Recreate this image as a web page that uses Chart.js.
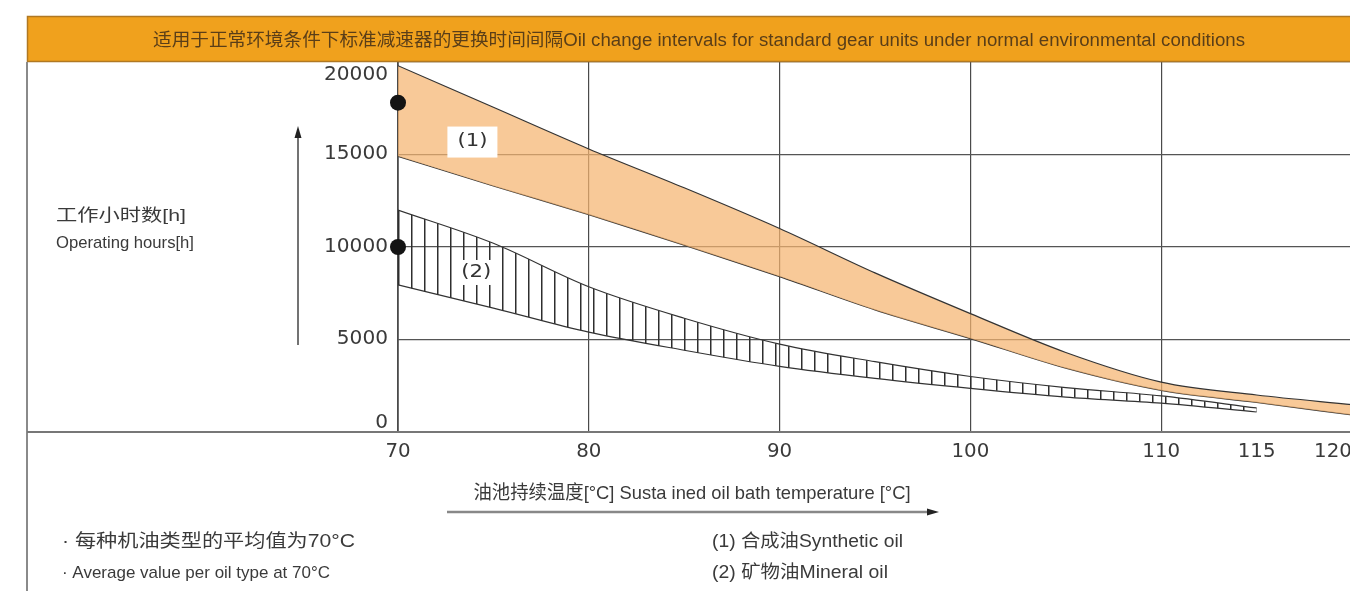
<!DOCTYPE html>
<html>
<head>
<meta charset="utf-8">
<script src="https://cdn.jsdelivr.net/npm/chart.js@4"></script>
<style>
  html, body { margin: 0; padding: 0; background: #fff; overflow: hidden; }
  #chart { display: block; }
</style>
</head>
<body>
<canvas id="chart" width="1360" height="591"></canvas>
<script>
// data
const temps = [70, 75, 80, 85, 90, 95, 100, 105, 110, 115, 120];
const syntheticHigh = [19800, 17550, 15300, 13200, 11000, 8600, 6400, 4300, 2700, 2000, 1480];
const syntheticLow  = [14900, 13300, 11750, 10100, 8400, 6600, 5050, 3450, 2250, 1600, 920];
const mineralTemps = [70, 75, 80, 85, 90, 95, 100, 105, 110, 115];
const mineralHigh = [12000, 10200, 7850, 6150, 4750, 3800, 3000, 2400, 1950, 1300];
const mineralLow  = [7950, 6700, 5400, 4420, 3550, 2900, 2360, 1890, 1560, 1080];
const avgTemps = [70, 70];
const avgHours = [17800, 10000];
const xTicks = [70, 80, 90, 100, 110, 115, 120];
const yTicks = [0, 5000, 10000, 15000, 20000];

const titleText = '适用于正常环境条件下标准减速器的更换时间间隔Oil change intervals for standard gear units under normal environmental conditions';
const yTitleCn = '工作小时数[h]';
const yTitleEn = 'Operating hours[h]';
const xTitle = '油池持续温度[°C] Susta ined oil bath temperature [°C]';
const note1 = '· 每种机油类型的平均值为70°C';
const note2 = '· Average value per oil type at 70°C';
const legend1 = '(1) 合成油Synthetic oil';
const legend2 = '(2) 矿物油Mineral oil';

function pts(xs, ys) { return xs.map((x, i) => ({ x: x, y: ys[i] })); }

// vertical hatch for mineral oil band
function hatchPattern() {
  const c = document.createElement('canvas');
  c.width = 13; c.height = 8;
  const g = c.getContext('2d');
  g.fillStyle = '#2e2e2e';
  g.fillRect(8, 0, 1.5, 8);
  return g.createPattern(c, 'repeat');
}

// draws text squeezed/stretched to a measured width
function fitText(ctx, text, x, y, font, width, align, color) {
  ctx.save();
  ctx.font = font;
  const w = ctx.measureText(text).width;
  const sx = width ? width / w : 1;
  ctx.translate(x, y);
  ctx.scale(sx, 1);
  ctx.textAlign = align || 'left';
  ctx.textBaseline = 'middle';
  ctx.fillStyle = color || '#3a3a3a';
  ctx.fillText(text, 0, 0);
  ctx.restore();
}

const cnFont = '"Liberation Sans", "Noto Sans CJK SC", sans-serif';
const numFont = '"DejaVu Sans", sans-serif';

const decor = {
  id: 'decor',
  beforeDraw(chart) {
    const ctx = chart.ctx;
    ctx.save();
    ctx.fillStyle = '#fff';
    ctx.fillRect(0, 0, chart.width, chart.height);
    ctx.restore();
  },
  afterDraw(chart) {
    const ctx = chart.ctx;
    const xs = chart.scales.x, ys = chart.scales.y;
    const area = chart.chartArea;
    ctx.save();

    // header bar
    ctx.fillStyle = '#f0a11d';
    ctx.fillRect(27, 16, chart.width - 27, 46);
    ctx.strokeStyle = '#b07822';
    ctx.lineWidth = 1.5;
    ctx.strokeRect(27.5, 16.5, chart.width, 45);
    fitText(ctx, titleText, 699, 41, '18px ' + cnFont, 1092, 'center', '#5a3e18');

    // left frame line
    ctx.strokeStyle = '#8a8a8a';
    ctx.lineWidth = 2;
    ctx.beginPath(); ctx.moveTo(27, 62); ctx.lineTo(27, chart.height); ctx.stroke();

    // zero line running out to the frame
    const y0 = ys.getPixelForValue(0);
    ctx.strokeStyle = '#777';
    ctx.lineWidth = 2;
    ctx.beginPath(); ctx.moveTo(27, y0); ctx.lineTo(chart.width, y0); ctx.stroke();

    // y tick labels
    yTicks.forEach(v => {
      let py = ys.getPixelForValue(v);
      py = Math.min(Math.max(py, area.top + 13), area.bottom - 9);
      fitText(ctx, String(v), area.left - 10, py, '19px ' + numFont, String(v).length * 12.8, 'right', '#3a3a3a');
    });
    // x tick labels
    xTicks.forEach(v => {
      const px = Math.min(xs.getPixelForValue(v), 1333);
      fitText(ctx, String(v), px, 452, '19px ' + numFont, String(v).length * 12.6, 'center', '#3a3a3a');
    });

    // band labels
    const l1x = xs.getPixelForValue(73.9), l1y = ys.getPixelForValue(15700);
    ctx.fillStyle = '#fff';
    ctx.fillRect(l1x - 25, l1y - 15, 50, 31);
    fitText(ctx, '(1)', l1x, l1y, '18px ' + numFont, 30, 'center', '#333');
    const l2x = xs.getPixelForValue(74.1), l2y = ys.getPixelForValue(8650);
    ctx.fillStyle = '#fff';
    ctx.fillRect(l2x - 19, l2y - 12, 38, 25);
    fitText(ctx, '(2)', l2x, l2y, '18px ' + numFont, 30, 'center', '#333');

    // y title and arrow
    fitText(ctx, yTitleCn, 56, 216, '17px ' + cnFont, 130, 'left', '#3a3a3a');
    fitText(ctx, yTitleEn, 56, 243, '17px ' + cnFont, 138, 'left', '#3a3a3a');
    ctx.strokeStyle = '#444';
    ctx.lineWidth = 1.5;
    ctx.beginPath(); ctx.moveTo(298, 345); ctx.lineTo(298, 134); ctx.stroke();
    ctx.fillStyle = '#222';
    ctx.beginPath(); ctx.moveTo(298, 126); ctx.lineTo(294.5, 138); ctx.lineTo(301.5, 138); ctx.closePath(); ctx.fill();

    // x title and arrow
    fitText(ctx, xTitle, 692, 494, '19px ' + cnFont, 437, 'center', '#3a3a3a');
    ctx.strokeStyle = '#888';
    ctx.lineWidth = 2.5;
    ctx.beginPath(); ctx.moveTo(447, 512); ctx.lineTo(930, 512); ctx.stroke();
    ctx.fillStyle = '#222';
    ctx.beginPath(); ctx.moveTo(939, 512); ctx.lineTo(927, 508.5); ctx.lineTo(927, 515.5); ctx.closePath(); ctx.fill();

    // notes and legend
    fitText(ctx, note1, 62, 542, '18px ' + cnFont, 293, 'left', '#3a3a3a');
    fitText(ctx, note2, 62, 573, '17px ' + cnFont, 268, 'left', '#3a3a3a');
    fitText(ctx, legend1, 712, 542, '18px ' + cnFont, 191, 'left', '#3a3a3a');
    fitText(ctx, legend2, 712, 573, '18px ' + cnFont, 176, 'left', '#3a3a3a');

    ctx.restore();
  }
};

const edge = { borderColor: '#333', borderWidth: 1.2, pointRadius: 0, cubicInterpolationMode: 'monotone' };

new Chart(document.getElementById('chart'), {
  type: 'line',
  data: {
    datasets: [
      Object.assign({ label: 'avg', data: pts(avgTemps, avgHours), showLine: false,
        pointRadius: 8, pointBackgroundColor: '#141414', pointBorderWidth: 0, clip: false, order: 0 }),
      Object.assign({ label: 'synthetic high', data: pts(temps, syntheticHigh), fill: '+1',
        backgroundColor: 'rgba(245,180,112,0.72)', order: 2 }, edge),
      Object.assign({ label: 'synthetic low', data: pts(temps, syntheticLow), fill: false, order: 2 }, edge),
      Object.assign({ label: 'mineral high', data: pts(mineralTemps, mineralHigh), fill: '+1',
        backgroundColor: hatchPattern(), order: 3 }, edge),
      Object.assign({ label: 'mineral low', data: pts(mineralTemps, mineralLow), fill: false, order: 3 }, edge)
    ]
  },
  options: {
    responsive: false,
    animation: false,
    layout: { padding: { left: 398, top: 62, right: 3, bottom: 159 } },
    plugins: { legend: { display: false }, tooltip: { enabled: false } },
    scales: {
      x: {
        type: 'linear', min: 70, max: 120,
        afterBuildTicks: s => { s.ticks = xTicks.map(v => ({ value: v })); },
        afterFit: s => { s.height = 0; },
        ticks: { display: false },
        grid: {
          drawTicks: false,
          color: c => (c.tick && c.tick.value > 110) ? 'rgba(0,0,0,0)' : '#4a4a4a',
          lineWidth: c => (c.tick && c.tick.value === 70) ? 1.8 : 1.2
        },
        border: { display: false }
      },
      y: {
        type: 'linear', min: 0, max: 20000,
        afterBuildTicks: s => { s.ticks = yTicks.map(v => ({ value: v })); },
        afterFit: s => { s.width = 0; },
        ticks: { display: false },
        grid: { drawTicks: false, color: '#555', lineWidth: 1.2 },
        border: { display: false }
      }
    }
  },
  plugins: [decor]
});
</script>
</body>
</html>
